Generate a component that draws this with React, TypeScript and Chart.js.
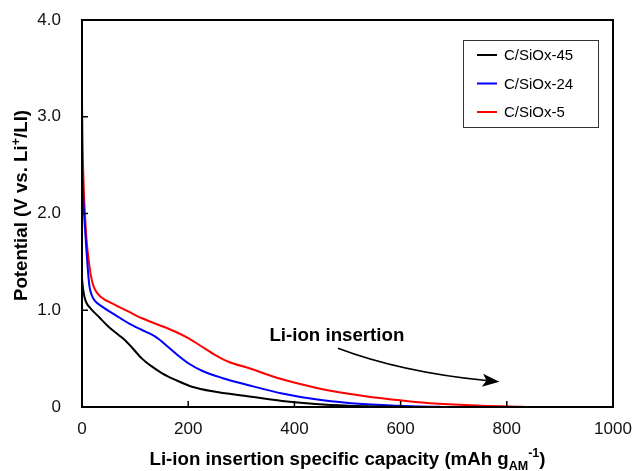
import React, { useEffect, useRef } from "react";
import { Chart, registerables } from "chart.js";

Chart.register(...registerables);

const seriesNames = ["C/SiOx-45", "C/SiOx-24", "C/SiOx-5"];
const seriesColors = ["#000000", "#0000ff", "#ff0000"];

const capacity45 = [0, 2, 5, 9, 16, 32, 50, 69, 82, 94, 113, 132, 151, 176, 207, 251, 301, 377, 440, 502, 560, 610];
const potential45 = [1.33, 1.22, 1.13, 1.07, 1.02, 0.93, 0.83, 0.745, 0.685, 0.615, 0.5, 0.417, 0.348, 0.28, 0.21, 0.158, 0.12, 0.062, 0.031, 0.013, 0.005, 0.001];

const capacity24 = [0, 2, 5, 8, 11, 14, 18, 24, 38, 63, 88, 113, 130, 145, 160, 176, 201, 226, 264, 314, 377, 440, 502, 565, 620, 675];
const potential24 = [2.5, 2.2, 1.9, 1.65, 1.42, 1.25, 1.16, 1.1, 1.037, 0.95, 0.865, 0.796, 0.752, 0.7, 0.63, 0.555, 0.45, 0.375, 0.3, 0.225, 0.14, 0.08, 0.042, 0.02, 0.008, 0.002];

const capacity5 = [0, 1, 3, 6, 9, 13, 17, 21, 26, 35, 63, 88, 113, 145, 176, 201, 226, 251, 276, 315, 377, 440, 502, 565, 628, 690, 753, 831];
const potential5 = [3.17, 2.75, 2.3, 1.95, 1.7, 1.5, 1.35, 1.26, 1.2, 1.14, 1.054, 0.985, 0.917, 0.848, 0.778, 0.71, 0.623, 0.537, 0.468, 0.4, 0.286, 0.2, 0.138, 0.09, 0.052, 0.028, 0.012, 0.002];

const xTicks = [0, 200, 400, 600, 800, 1000];
const yTicks = [0, 1, 2, 3, 4];

const annotationText = "Li-ion insertion";
const annotationPos = { x: 480, y: 0.734 };
const arrowStart = { x: 482, y: 0.607 };
const arrowControl = { x: 601, y: 0.36 };
const arrowEnd = { x: 786, y: 0.26 };

const FONT = "'Liberation Sans', Arial, sans-serif";
const TITLE_SIZE = 18.7;

type Seg = { t: string; size: number; dy: number };

function drawRich(ctx: CanvasRenderingContext2D, segs: Seg[], cx: number, baseY: number) {
  let total = 0;
  const widths = segs.map((s) => {
    ctx.font = `bold ${s.size}px ${FONT}`;
    const w = ctx.measureText(s.t).width;
    total += w;
    return w;
  });
  let x = cx - total / 2;
  ctx.textAlign = "left";
  ctx.textBaseline = "alphabetic";
  segs.forEach((s, i) => {
    ctx.font = `bold ${s.size}px ${FONT}`;
    ctx.fillText(s.t, x, baseY + s.dy);
    x += widths[i];
  });
}

const decorPlugin = {
  id: "decor",
  afterDraw(chart: any) {
    const ctx: CanvasRenderingContext2D = chart.ctx;
    const { left, right, top, bottom } = chart.chartArea;
    const xs = chart.scales.x;
    const ys = chart.scales.y;
    ctx.save();
    // frame
    ctx.strokeStyle = "#000";
    ctx.lineWidth = 2;
    ctx.strokeRect(left, top, right - left, bottom - top);
    // inside ticks
    ctx.lineWidth = 1.5;
    ctx.beginPath();
    xTicks.slice(1, -1).forEach((v) => {
      const px = xs.getPixelForValue(v);
      ctx.moveTo(px, bottom);
      ctx.lineTo(px, bottom - 6);
    });
    yTicks.slice(1, -1).forEach((v) => {
      const py = ys.getPixelForValue(v);
      ctx.moveTo(left, py);
      ctx.lineTo(left + 6, py);
    });
    ctx.stroke();

    // legend
    const lx = 463, ly = 40, lw = 135, lh = 87;
    ctx.lineWidth = 1;
    ctx.strokeStyle = "#333";
    ctx.strokeRect(lx + 0.5, ly + 0.5, lw, lh);
    ctx.font = `15px ${FONT}`;
    ctx.textAlign = "left";
    ctx.textBaseline = "middle";
    seriesNames.forEach((n, i) => {
      const y = ly + 15 + i * 28.5;
      ctx.strokeStyle = seriesColors[i];
      ctx.lineWidth = 2;
      ctx.beginPath();
      ctx.moveTo(477, y);
      ctx.lineTo(497, y);
      ctx.stroke();
      ctx.fillStyle = "#000";
      ctx.fillText(n, 504, y + 1);
    });

    // annotation
    ctx.fillStyle = "#000";
    ctx.font = `bold ${TITLE_SIZE}px ${FONT}`;
    ctx.textAlign = "center";
    ctx.textBaseline = "middle";
    ctx.fillText(annotationText, xs.getPixelForValue(annotationPos.x), ys.getPixelForValue(annotationPos.y));

    const p0 = { x: xs.getPixelForValue(arrowStart.x), y: ys.getPixelForValue(arrowStart.y) };
    const pc = { x: xs.getPixelForValue(arrowControl.x), y: ys.getPixelForValue(arrowControl.y) };
    const p2 = { x: xs.getPixelForValue(arrowEnd.x), y: ys.getPixelForValue(arrowEnd.y) };
    const ang = Math.atan2(p2.y - pc.y, p2.x - pc.x);
    const headLen = 17, headW = 6.5;
    const bx = p2.x - headLen * Math.cos(ang);
    const by = p2.y - headLen * Math.sin(ang);
    ctx.strokeStyle = "#000";
    ctx.lineWidth = 1.5;
    ctx.beginPath();
    ctx.moveTo(p0.x, p0.y);
    ctx.quadraticCurveTo(pc.x, pc.y, bx + 4 * Math.cos(ang), by + 4 * Math.sin(ang));
    ctx.stroke();
    ctx.beginPath();
    ctx.moveTo(p2.x, p2.y);
    ctx.lineTo(bx + headW * Math.sin(ang), by - headW * Math.cos(ang));
    ctx.lineTo(bx + 4 * Math.cos(ang), by + 4 * Math.sin(ang));
    ctx.lineTo(bx - headW * Math.sin(ang), by + headW * Math.cos(ang));
    ctx.closePath();
    ctx.fill();

    // axis titles
    ctx.fillStyle = "#000";
    drawRich(
      ctx,
      [
        { t: "Li-ion insertion specific capacity (mAh g", size: TITLE_SIZE, dy: 0 },
        { t: "AM", size: 12.5, dy: 5 },
        { t: "-1", size: 12.5, dy: -8 },
        { t: ")", size: TITLE_SIZE, dy: 0 },
      ],
      (left + right) / 2,
      465
    );
    ctx.save();
    ctx.translate(27, (top + bottom) / 2 - 8);
    ctx.rotate(-Math.PI / 2);
    drawRich(
      ctx,
      [
        { t: "Potential (V vs. Li", size: TITLE_SIZE, dy: 0 },
        { t: "+", size: 12.5, dy: -7 },
        { t: "/LI)", size: TITLE_SIZE, dy: 0 },
      ],
      0,
      0
    );
    ctx.restore();
    ctx.restore();
  },
};

function toPoints(xs: number[], ys: number[]) {
  return xs.map((x, i) => ({ x, y: ys[i] }));
}

export default function App() {
  const ref = useRef<HTMLCanvasElement | null>(null);
  useEffect(() => {
    document.body.style.margin = "0";
    const canvas = ref.current;
    if (!canvas) return;
    const datasets = [
      toPoints(capacity45, potential45),
      toPoints(capacity24, potential24),
      toPoints(capacity5, potential5),
    ].map((data, i) => ({
      label: seriesNames[i],
      data,
      borderColor: seriesColors[i],
      backgroundColor: seriesColors[i],
      borderWidth: 2,
      pointRadius: 0,
      cubicInterpolationMode: "monotone" as const,
      fill: false,
    }));
    const chart = new Chart(canvas, {
      type: "line",
      data: { datasets },
      options: {
        animation: false,
        responsive: false,
        layout: { padding: { top: 20, right: 22, left: 0, bottom: 0 } },
        plugins: { legend: { display: false }, tooltip: { enabled: false } },
        scales: {
          x: {
            type: "linear",
            min: 0,
            max: 1000,
            afterBuildTicks: (s: any) => {
              s.ticks = xTicks.map((v) => ({ value: v }));
            },
            afterFit: (s: any) => {
              s.height = 64;
              s.paddingLeft = 0;
              s.paddingRight = 0;
            },
            ticks: {
              font: { size: 17, family: FONT },
              color: "#111",
              padding: 12,
              maxRotation: 0,
              callback: (v: any) => String(v),
            },
            grid: { display: false, drawTicks: false },
            border: { display: false },
          },
          y: {
            type: "linear",
            min: 0,
            max: 4,
            afterBuildTicks: (s: any) => {
              s.ticks = yTicks.map((v) => ({ value: v }));
            },
            afterFit: (s: any) => {
              s.width = 82;
              s.paddingTop = 0;
              s.paddingBottom = 0;
            },
            ticks: {
              font: { size: 17, family: FONT },
              color: "#111",
              padding: 21,
              callback: (v: any) => (Number(v) === 0 ? "0" : Number(v).toFixed(1)),
            },
            grid: { display: false, drawTicks: false },
            border: { display: false },
          },
        },
      },
      plugins: [decorPlugin],
    });
    return () => chart.destroy();
  }, []);
  return (
    <div style={{ position: "absolute", left: 0, top: 0, width: 635, height: 471, background: "#fff" }}>
      <canvas ref={ref} width={635} height={471} style={{ width: 635, height: 471 }} />
    </div>
  );
}
